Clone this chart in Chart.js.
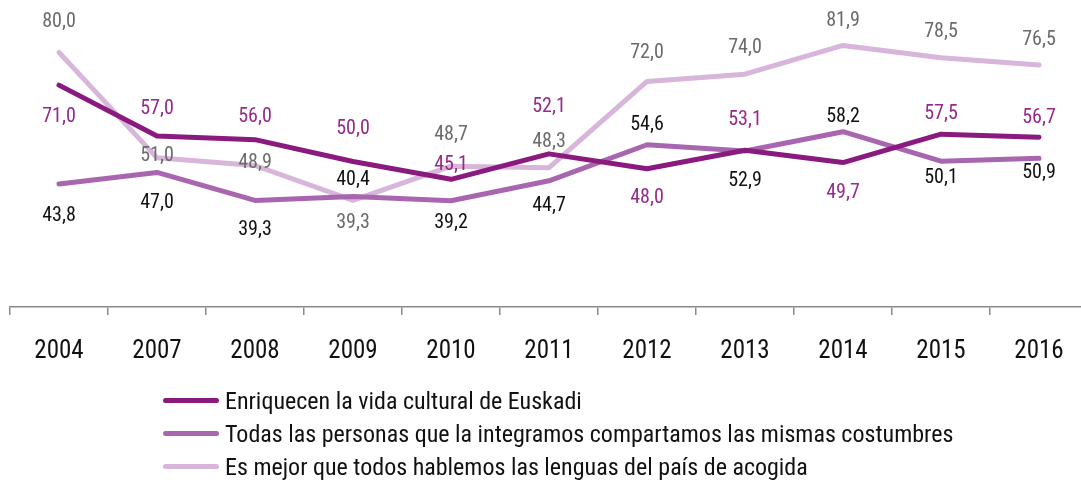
<!DOCTYPE html>
<html>
<head>
<meta charset="utf-8">
<script src="https://cdn.jsdelivr.net/npm/chart.js@4"></script>
<style>
    html, body { margin: 0; padding: 0; background: #fff; overflow: hidden; }
    body { width: 1081px; height: 480px; position: relative; font-family: "Roboto Condensed", "DejaVu Sans Condensed", sans-serif; }
    #wrap { position: absolute; left: 0; top: 0; width: 1081px; height: 389px; overflow: hidden; }
    #legend { position: absolute; left: 163px; top: 384px; }
    .item { display: flex; align-items: center; height: 33px; font-size: 24px; color: #111; white-space: nowrap; }
    .swatch { width: 56px; height: 5px; border-radius: 3px; margin-right: 6px; }
</style>
</head>
<body>
<div id="wrap"><canvas id="chart" width="1088" height="389"></canvas></div>
<div id="legend"></div>
<script>
const years = ['2004', '2007', '2008', '2009', '2010', '2011', '2012', '2013', '2014', '2015', '2016'];

const enriquecen = [71.0, 57.0, 56.0, 50.0, 45.1, 52.1, 48.0, 53.1, 49.7, 57.5, 56.7];
const costumbres = [43.8, 47.0, 39.3, 40.4, 39.2, 44.7, 54.6, 52.9, 58.2, 50.1, 50.9];
const lenguas = [80.0, 51.0, 48.9, 39.3, 48.7, 48.3, 72.0, 74.0, 81.9, 78.5, 76.5];

const seriesNames = [
    'Enriquecen la vida cultural de Euskadi',
    'Todas las personas que la integramos compartamos las mismas costumbres',
    'Es mejor que todos hablemos las lenguas del país de acogida'
];

// vertical offset of each value label from its point (px)
const enriquecenDy = [32, -27, -23, -33, -14, -47, 29, -30, 30, -20, -19];
const costumbresDy = [32, 31, 30, -16, 22, 25, -20, 30, -15, 17, 15];
const lenguasDy = [-30, -2, -3, 23, -31, -26, -28, -26, -24, -26, -25];

const FONT = '"Roboto Condensed", "DejaVu Sans Condensed", sans-serif';

const series = [
    { data: enriquecen, dy: enriquecenDy, color: '#8b1a7e', labelColor: '#952a89' },
    { data: costumbres, dy: costumbresDy, color: '#a966b0', labelColor: '#111111' },
    { data: lenguas, dy: lenguasDy, color: '#d8b5da', labelColor: '#6b6b6b' }
];

const valueLabels = {
    id: 'valueLabels',
    afterDatasetsDraw(chart) {
        const ctx = chart.ctx;
        ctx.save();
        ctx.font = '20px ' + FONT;
        ctx.textAlign = 'center';
        ctx.textBaseline = 'middle';
        chart.data.datasets.forEach((ds, di) => {
            const meta = chart.getDatasetMeta(di);
            ctx.fillStyle = series[di].labelColor;
            meta.data.forEach((pt, i) => {
                const txt = ds.data[i].toFixed(1).replace('.', ',');
                ctx.fillText(txt, pt.x, pt.y + series[di].dy[i]);
            });
        });
        ctx.restore();
    }
};

new Chart(document.getElementById('chart'), {
    type: 'line',
    data: {
        labels: years,
        datasets: series.map((s, i) => ({
            label: seriesNames[i],
            data: s.data,
            borderColor: s.color,
            backgroundColor: s.color,
            borderWidth: 5,
            pointRadius: 0,
            tension: 0,
            borderCapStyle: 'round',
            borderJoinStyle: 'round',
            clip: false
        }))
    },
    options: {
        responsive: false,
        animation: false,
        layout: { padding: { left: 10, right: 0, top: 0, bottom: 0 } },
        plugins: {
            legend: { display: false },
            tooltip: { enabled: false }
        },
        scales: {
            x: {
                offset: true,
                grid: {
                    display: true,
                    offset: true,
                    drawOnChartArea: false,
                    drawTicks: true,
                    tickLength: 8,
                    color: '#8a8a8a',
                    lineWidth: 1.5
                },
                border: { display: true, color: '#8a8a8a', width: 1.5 },
                ticks: {
                    color: '#111',
                    padding: 22,
                    font: { family: FONT, size: 25 },
                    maxRotation: 0
                }
            },
            y: {
                display: false,
                min: 10,
                max: 94.4
            }
        }
    },
    plugins: [valueLabels]
});

// legend
const legend = document.getElementById('legend');
series.forEach((s, i) => {
    const row = document.createElement('div');
    row.className = 'item';
    row.innerHTML = `<span class="swatch" style="background:${s.color}"></span><span>${seriesNames[i]}</span>`;
    legend.appendChild(row);
});
</script>
</body>
</html>
